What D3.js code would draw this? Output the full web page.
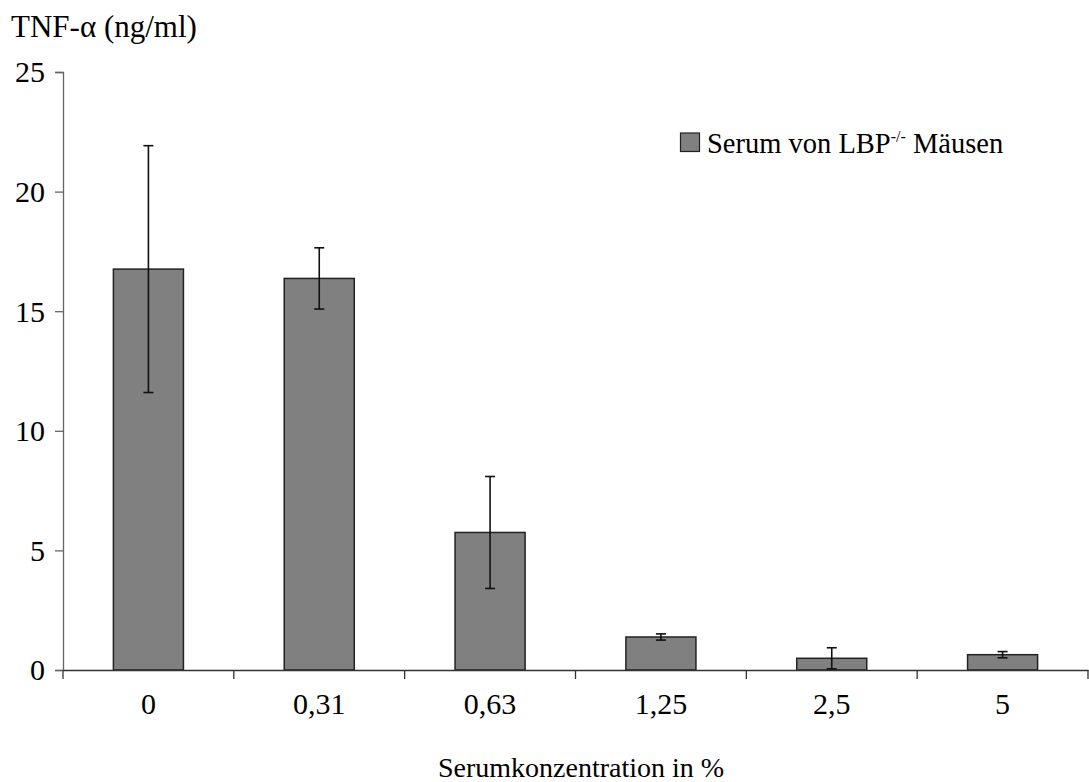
<!DOCTYPE html>
<html><head><meta charset="utf-8">
<script src="https://cdn.jsdelivr.net/npm/d3@7"></script>
<style>body{margin:0;background:#fff}svg{display:block}</style>
</head><body>
<svg id="c" width="1089" height="782"></svg>
<script>
const categories = ["0","0,31","0,63","1,25","2,5","5"];
const values = [16.76, 16.37, 5.75, 1.38, 0.49, 0.64];
const errors = [5.16, 1.28, 2.34, 0.13, 0.44, 0.13];
const yTicks = [0,5,10,15,20,25];
const seriesName = "Serum von LBP";
const yTitle = "TNF-\u03B1 (ng/ml)";
const xTitle = "Serumkonzentration in %";

const FONT = '"Liberation Serif", "Times New Roman", serif';
const svg = d3.select("#c");
const L = 63, R = 1088, T = 72, B = 670;
const x = d3.scaleBand().domain(categories).range([L, R]).paddingInner(0.59).paddingOuter(0.295);
const y = d3.scaleLinear().domain([0,25]).range([B, T]);
const band = d3.scaleBand().domain(categories).range([L, R]);

// bars
svg.selectAll("rect.bar").data(values).join("rect")
  .attr("x",(d,i)=>x(categories[i])).attr("width",x.bandwidth())
  .attr("y",d=>y(d)).attr("height",d=>B-y(d))
  .attr("fill","#808080").attr("stroke","#222").attr("stroke-width",1.5);

// y axis
const ya = svg.append("g").attr("transform",`translate(${L},0)`)
  .call(d3.axisLeft(y).tickValues(yTicks).tickSize(8).tickPadding(10));
ya.select(".domain").attr("stroke","#666").attr("stroke-width",1.3);
ya.selectAll(".tick line").attr("stroke","#666").attr("stroke-width",1.3);
ya.selectAll("text").attr("dy","0.33em").attr("fill","#000")
  .style("font-family",FONT).style("font-size","30px");

// x axis
const xa = svg.append("g").attr("transform",`translate(0,${B})`)
  .call(d3.axisBottom(band).tickSize(0).tickPadding(44));
xa.select(".domain").attr("stroke","#333").attr("stroke-width",1.3);
xa.selectAll("text").attr("fill","#000").attr("dy","0")
  .style("font-family",FONT).style("font-size","30px");
// category boundary ticks
const bounds = categories.map(c=>band(c)).concat([R]);
svg.selectAll("line.xt").data(bounds).join("line")
  .attr("x1",d=>d).attr("x2",d=>d).attr("y1",B).attr("y2",B+9)
  .attr("stroke","#333").attr("stroke-width",1.3);

// error bars
const cx = i => x(categories[i]) + x.bandwidth()/2;
const eb = svg.append("g").attr("stroke","#111").attr("stroke-width",1.6);
values.forEach((v,i)=>{
  const lo = Math.max(0, v-errors[i]), hi = v+errors[i];
  eb.append("line").attr("x1",cx(i)).attr("x2",cx(i)).attr("y1",y(lo)).attr("y2",y(hi));
  eb.append("line").attr("x1",cx(i)-5).attr("x2",cx(i)+5).attr("y1",y(hi)).attr("y2",y(hi));
  eb.append("line").attr("x1",cx(i)-5).attr("x2",cx(i)+5).attr("y1",y(lo)).attr("y2",y(lo));
});

// titles
svg.append("text").attr("x",11).attr("y",37).style("font-family",FONT).style("font-size","31px").text(yTitle);
svg.append("text").attr("x",581).attr("y",777).attr("text-anchor","middle")
  .style("font-family",FONT).style("font-size","28px").text(xTitle);

// legend
svg.append("rect").attr("x",680.5).attr("y",133).attr("width",19).attr("height",18.5)
  .attr("fill","#808080").attr("stroke","#222").attr("stroke-width",1.2);
const lt = svg.append("text").attr("x",707).attr("y",153).style("font-family",FONT).style("font-size","28.5px");
lt.append("tspan").text(seriesName);
lt.append("tspan").attr("dy",-11).style("font-size","16px").text("-/-");
lt.append("tspan").attr("dy",11).text(" M\u00E4usen");
</script>
</body></html>
